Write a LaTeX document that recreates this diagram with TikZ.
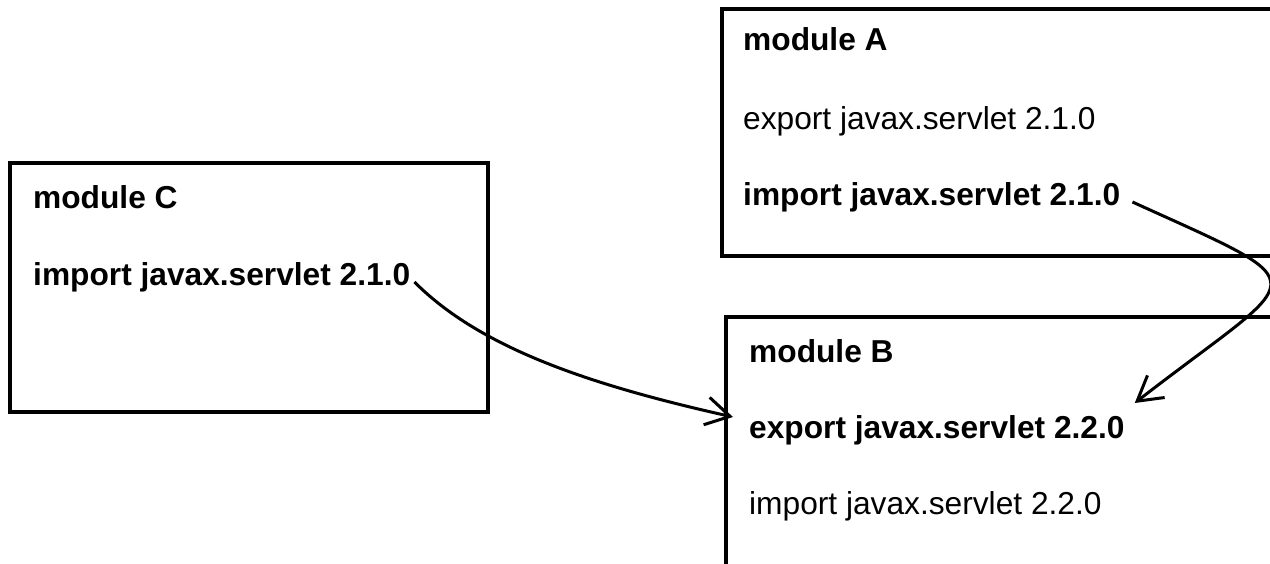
\documentclass[tikz,border=0pt]{standalone}
\usepackage{fontspec}
\setmainfont{Liberation Sans}
\usetikzlibrary{arrows.meta}
\begin{document}
\begin{tikzpicture}[x=1pt,y=-1pt,
  box/.style={draw, line width=3.8pt, inner sep=0pt, outer sep=0pt, anchor=north west},
  txt/.style={anchor=base west, inner sep=0pt, font=\fontsize{31.7pt}{38pt}\selectfont},
  btxt/.style={anchor=base west, inner sep=0pt, font=\fontsize{31.7pt}{38pt}\selectfont\bfseries},
  conn/.style={line width=3pt, -{Straight Barb[length=24pt,width=28pt]}}]
\useasboundingbox (0,0) rectangle (1270,564);
\clip (0,0) rectangle (1270,564);
% boxes
\node[box, minimum width=478pt, minimum height=249pt] (boxC) at (10,163) {};
\node[box, minimum width=578pt, minimum height=247pt] (boxA) at (722,9) {};
\node[box, minimum width=578pt, minimum height=283pt] (boxB) at (726,317) {};
% texts
\node[btxt] (cmod) at (33,209) {module C};
\node[btxt] (cimp) at (33,286) {import javax.servlet 2.1.0};
\node[btxt] (amod) at (743,51) {module A};
\node[txt]  (aexp) at (743,130) {export javax.servlet 2.1.0};
\node[btxt] (aimp) at (743,206) {import javax.servlet 2.1.0};
\node[btxt] (bmod) at (749,362) {module B};
\node[btxt] (bexp) at (749,438) {export javax.servlet 2.2.0};
\node[txt]  (bimp) at (749,514) {import javax.servlet 2.2.0};
% connectors
\coordinate (c1s) at ([shift={(4,-4)}]cimp.base east);
\coordinate (c1e) at ([shift={(-16,-21)}]bexp.base west);
\coordinate (c2s) at ([shift={(12,-4)}]aimp.base east);
\coordinate (c2e) at ([shift={(10,-35)}]bexp.base east);
\draw[conn] (c1s) .. controls (480,348) and (590,385) .. (c1e);
\draw[conn] (c2s) .. controls (1326,290) and (1306,270) .. (c2e);
\end{tikzpicture}
\end{document}
